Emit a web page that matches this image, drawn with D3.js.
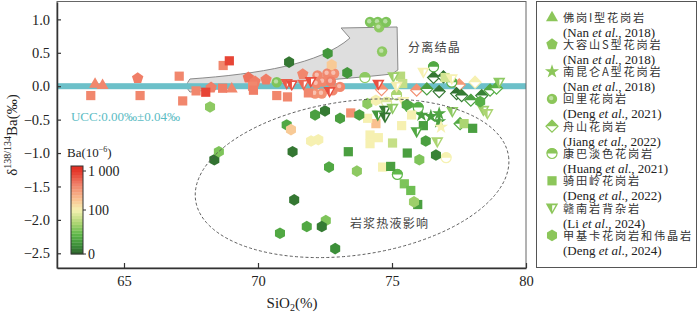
<!DOCTYPE html>
<html>
<head>
<meta charset="utf-8">
<script src="https://cdn.jsdelivr.net/npm/d3@7"></script>
<style>
  body { margin: 0; background: #fff; }
  svg { display: block; }
</style>
</head>
<body>
<svg id="chart" width="700" height="314"></svg>
<script>
// each point: [SiO2 (%), d138/134Ba (permil), Ba (10^-6)]
const foGangI = [[63.92,0.04,650],[64.2,0.02,650],[69.02,-0.03,650]];
const daRongShan = [[65.51,0.12,700],[68.25,-0.02,700],[69.64,0.13,750],[69.89,0.07,700],[70.3,0.1,700],[71.67,0.18,650]];
const nanKunLun = [[76.1,-0.43,30],[76.45,-0.45,30],[76.76,-0.41,35],[76.76,-0.53,30],[76.83,-0.61,105]];
const huiLi = [[74.18,0.96,55],[74.47,0.96,55],[74.52,0.88,60],[74.78,0.96,55],[74.63,0.52,60],[70.7,0.06,55],
  [72.22,0.16,650],[72.59,0.19,650],[72.84,0.19,620],[72.42,0.07,650],[72.72,0.07,700],[72.18,0.04,650],
  [73.06,-0.01,650],[72.13,-0.11,600],[72.38,-0.11,600],[72.79,-0.06,650]];
const zhouShan = [[74.61,-0.05,600],[75.92,-0.06,600],[77.51,0.02,550],[78.1,0.06,110],[76.55,0.13,10],[76.92,0.14,8],
  [76.76,-0.08,10],[77.41,-0.11,8],[77.6,-0.14,12],[77.94,-0.21,30],[78.35,-0.14,15],[78.66,-0.06,35],[76.3,-0.04,30],
  [77.54,-0.56,35],[78.9,-0.03,40]];
const kangBa = [[73.99,0.13,60],[76.55,0.29,35],[75.67,-0.32,40],[75.98,-0.32,40],[75.17,-0.13,70],[74.8,-0.24,90],
  [75.2,-1.32,45],[77.02,-1.07,100],[77.23,0.06,40]];
const qiTianLing = [[63.76,-0.14,650],[65.6,-0.14,650],[67.06,0.15,650],[67.19,-0.22,650],[67.69,-0.07,650],[68.05,-0.09,950],
  [68.68,-0.03,700],[68.7,0.31,650],[68.93,0.38,950],[69.8,0.0,650],[69.83,-0.06,700],[70.7,-0.14,650],[71.1,-0.16,650],
  [71.88,-0.1,650],[73.46,-0.4,600],[74.4,-0.56,350],[74.18,-0.73,110],[74.49,-0.77,110],[74.18,-0.86,110],[75.02,-0.85,80],
  [75.36,-0.59,110],[75.32,0.15,75],[75.4,0.04,80],[76.17,-0.59,30],[73.37,-0.98,30],[75.57,-1.0,30],[74.65,-1.21,110],
  [74.95,-1.2,30],[75.46,-1.46,55],[75.7,-1.56,50],[75.96,-1.77,30],[77.69,-0.56,70],[78.01,-0.63,30],[76.98,0.13,85],
  [75.73,-0.43,110],[74.09,-0.48,110]];
const ganNan = [[71.07,0.04,850],[71.26,0.02,900],[71.7,0.03,800],[71.97,0.07,900],[72.67,-0.08,900],[74.49,0.03,900],
  [75.05,0.14,65],[76.17,0.21,110],[77.23,0.11,105],[79.0,0.06,60],[75.17,0.0,120],[74.74,-0.36,12],[75.02,-0.33,60],
  [74.47,-0.43,25],[74.74,-0.46,10],[75.42,-0.23,110],[75.92,-0.68,35],[76.69,-0.83,70],[77.25,-0.38,60],[78.41,-0.36,65],
  [78.56,-0.41,70]];
const jiaJiKa = [[68.21,-0.31,60],[68.37,-1.1,8],[68.54,-0.98,55],[71.16,0.36,10],[72.6,0.49,25],[72.75,0.32,300],
  [73.33,0.2,25],[71.07,-0.58,35],[71.23,-0.65,300],[71.98,-0.82,110],[72.25,-0.8,110],[72.13,-0.43,30],[72.5,-0.37,12],
  [73.06,-0.48,30],[73.78,-0.43,30],[71.29,-0.98,10],[76.02,-1.1,55],[76.64,-1.03,15],[72.65,-1.21,35],[73.69,-1.27,60],
  [75.82,-1.73,65],[71.35,-1.7,10],[72.53,-2.01,55],[72.38,-2.1,12],[71.82,-2.1,35],[70.82,-2.2,35],[72.88,-2.43,20],
  [76.26,-0.82,30],[75.55,-0.28,35],[74.08,-0.26,60],[74.4,-0.21,110],[78.29,-0.23,40]];

const xTicks = [65, 70, 75, 80];
const yTicks = [1, 0.5, 0, -0.5, -1, -1.5, -2, -2.5];
const barTicks = [[1000, '1 000'], [100, '100'], [0, '0']];

const legendNames = ['佛岗I型花岗岩','大容山S型花岗岩','南昆仑A型花岗岩','回里花岗岩','舟山花岗岩','康巴淡色花岗岩','骑田岭花岗岩','赣南岩背杂岩','甲基卡花岗岩和伟晶岩'];
const legendRefs = [['Nan','2018'],['Nan','2018'],['Nan','2018'],['Deng','2021'],['Jiang','2022'],['Huang','2021'],['Deng','2022'],['Li','2024'],['Deng','2024']];
const shapes = ['tri','pent','star','ball','hdiamond','hcircle','square','vtri','hex'];
const seriesData = [foGangI, daRongShan, nanKunLun, huiLi, zhouShan, kangBa, qiTianLing, ganNan, jiaJiKa];

// fractional crystallization arrow outline, in data units
const arrowPts = [[67.46,0.108],[70.07,0.183],[72.31,0.332],[73.43,0.72],[73.1,0.871],[75.19,0.886],[75.22,0.243],
  [75.0,0.183],[73.06,0.093],[70.07,0.033],[67.46,-0.087],[67.24,0.003]];

const svg = d3.select('#chart');
const serif = "'Liberation Serif','DejaVu Serif',serif";
const cjk = "'Noto Sans CJK SC','Noto Sans CJK JP',sans-serif";

const x = d3.scaleLinear().domain([62.5, 80]).range([57, 526]);
const y = d3.scaleLinear().domain([-2.72, 1.26]).range([268, 2]);

const color = d3.scaleLinear()
  .domain([0, 20, 45, 70, 100, 350, 700, 1000, 1150])
  .range(['#2b5e2b','#3c8f39','#5fb84a','#acd572','#f6f2b2','#f9c08f','#f07e67','#e5392c','#e02a20'])
  .clamp(true);

const plot = svg.append('g');

// arrow
const ap = arrowPts.map(p => [x(p[0]), y(p[1])]);
const arrowPath = `M${ap[0]}C${ap[1]} ${ap[2]} ${ap[3]}L${ap[4]}L${ap[5]}L${ap[6]}L${ap[7]}C${ap[8]} ${ap[9]} ${ap[10]}Q${ap[11]} ${ap[0]}Z`;
plot.append('path').attr('d', arrowPath)
  .attr('fill', '#dedede').attr('stroke', '#8a8a8a').attr('stroke-width', 1);

// UCC band
plot.append('rect')
  .attr('x', x(62.5)).attr('width', x(80) - x(62.5))
  .attr('y', y(0.045)).attr('height', y(-0.045) - y(0.045))
  .attr('fill', '#6cc0c9');

function poly(n, r, rot) {
  const pts = d3.range(n).map(i => {
    const a = rot + i * 2 * Math.PI / n;
    return [r * Math.sin(a), -r * Math.cos(a)];
  });
  return 'M' + pts.join('L') + 'Z';
}

function drawShape(g, shape, c) {
  if (shape === 'tri') {
    g.append('path').attr('d', 'M0,-6.3L6,4.2L-6,4.2Z').attr('fill', c);
  } else if (shape === 'pent') {
    g.append('path').attr('d', poly(5, 6, 0)).attr('fill', c);
  } else if (shape === 'star') {
    g.append('path').attr('d', d3.symbol(d3.symbolStar, 62)()).attr('fill', c);
  } else if (shape === 'ball') {
    g.append('circle').attr('r', 5.2).attr('fill', c);
    g.append('circle').attr('r', 2.2).attr('cx', -0.8).attr('cy', -0.8).attr('fill', '#fff').attr('opacity', 0.45);
  } else if (shape === 'hdiamond') {
    g.append('path').attr('d', 'M0,-6L6,0L0,6L-6,0Z').attr('fill', '#fff').attr('stroke', c).attr('stroke-width', 1.2);
    g.append('path').attr('d', 'M0,-6L6,0L-6,0Z').attr('fill', c);
  } else if (shape === 'hcircle') {
    g.append('circle').attr('r', 5).attr('fill', '#fff').attr('stroke', c).attr('stroke-width', 1.2);
    g.append('path').attr('d', 'M-5.5,0A5.5,5.5 0 0 1 5.5,0Z').attr('fill', c);
  } else if (shape === 'square') {
    g.append('rect').attr('x', -4.6).attr('y', -4.6).attr('width', 9.2).attr('height', 9.2).attr('fill', c);
  } else if (shape === 'vtri') {
    g.append('path').attr('d', 'M-6.2,-4.5L6.2,-4.5L0,6.5Z').attr('fill', c);
    g.append('path').attr('d', 'M0.2,-2.8L3.6,-2.8L0.2,3.4Z').attr('fill', '#fff');
  } else if (shape === 'hex') {
    g.append('path').attr('d', poly(6, 5.8, 0)).attr('fill', c);
  }
}

// points
seriesData.forEach((data, i) => {
  plot.append('g').selectAll('g')
    .data(data)
    .join('g')
    .attr('transform', d => `translate(${x(d[0])},${y(d[1])})`)
    .each(function(d) { drawShape(d3.select(this), shapes[i], color(d[2])); });
});

// hydrothermal ellipse
const ec = [x(73.51), y(-1.377)];
plot.append('ellipse')
  .attr('transform', `translate(${ec}) rotate(-8)`)
  .attr('rx', 158).attr('ry', 77)
  .attr('fill', 'none').attr('stroke', '#555').attr('stroke-width', 0.9).attr('stroke-dasharray', '3,2.2');

// annotations
plot.append('text').attr('x', x(75.6)).attr('y', y(0.51))
  .attr('font-family', cjk).attr('font-size', 12).attr('letter-spacing', 1.2).attr('fill', '#444')
  .text('分离结晶');
plot.append('text').attr('x', x(73.43)).attr('y', y(-2.12))
  .attr('font-family', cjk).attr('font-size', 12).attr('letter-spacing', 1.2).attr('fill', '#444')
  .text('岩浆热液影响');
plot.append('text').attr('x', x(63.02)).attr('y', y(-0.52))
  .attr('font-family', serif).attr('font-size', 13).attr('fill', '#5bbcc4')
  .text('UCC:0.00‰±0.04‰');

// frame
svg.append('rect').attr('x', 57).attr('y', 1.5).attr('width', 469).attr('height', 266.5)
  .attr('fill', 'none').attr('stroke', '#666').attr('stroke-width', 1);

// axes
const xAxis = svg.append('g').attr('transform', 'translate(0,268)')
  .call(d3.axisBottom(x).tickValues(xTicks).tickSizeInner(-5).tickSizeOuter(0).tickPadding(8));
const yAxis = svg.append('g').attr('transform', 'translate(57,0)')
  .call(d3.axisLeft(y).tickValues(yTicks).tickFormat(d3.format('.1f')).tickSizeInner(-4).tickSizeOuter(0).tickPadding(7));
[xAxis, yAxis].forEach(a => {
  a.select('.domain').attr('stroke', '#333').attr('stroke-width', 1.5);
  a.selectAll('.tick line').attr('stroke', '#333').attr('stroke-width', 1.2);
  a.selectAll('.tick text').attr('font-family', serif).attr('font-size', 14.5).attr('fill', '#222');
});

// axis titles
const yt = svg.append('text').attr('transform', 'translate(17,135) rotate(-90)')
  .attr('text-anchor', 'middle').attr('font-family', serif).attr('font-size', 15).attr('fill', '#222');
yt.append('tspan').text('δ');
yt.append('tspan').attr('font-size', 10).attr('dy', -6).text('138/134');
yt.append('tspan').attr('dy', 6).text('Ba(‰)');

const xt = svg.append('text').attr('x', 292).attr('y', 308)
  .attr('text-anchor', 'middle').attr('font-family', serif).attr('font-size', 15).attr('fill', '#222');
xt.append('tspan').text('SiO');
xt.append('tspan').attr('font-size', 10).attr('dy', 3).text('2');
xt.append('tspan').attr('dy', -3).text('(%)');

// colour bar
const barY = d3.scaleLinear().domain([0, 100, 1000]).range([254, 210, 171]);
const barTop = 166, barBottom = 254, nSteps = 30;
const stepH = (barBottom - barTop) / nSteps;
const bar = svg.append('g');
bar.selectAll('rect')
  .data(d3.range(nSteps))
  .join('rect')
  .attr('x', 71).attr('width', 12)
  .attr('y', i => barBottom - (i + 1) * stepH).attr('height', stepH + 0.3)
  .attr('fill', i => color(barY.invert(barBottom - (i + 0.5) * stepH)));
bar.append('rect').attr('x', 71).attr('y', barTop).attr('width', 12).attr('height', barBottom - barTop)
  .attr('fill', 'none').attr('stroke', '#333').attr('stroke-width', 1);
bar.selectAll('.btick')
  .data(barTicks)
  .join('g')
  .attr('transform', d => `translate(83,${barY(d[0])})`)
  .each(function(d) {
    const g = d3.select(this);
    g.append('line').attr('x1', 0).attr('x2', 3).attr('stroke', '#333');
    g.append('text').attr('x', 5).attr('dy', '0.35em')
      .attr('font-family', serif).attr('font-size', 14).attr('fill', '#222').text(d[1]);
  });
const bt = svg.append('text').attr('x', 67).attr('y', 157)
  .attr('font-family', serif).attr('font-size', 13).attr('fill', '#222');
bt.append('tspan').text('Ba(10');
bt.append('tspan').attr('font-size', 8).attr('dy', -5).text('−6');
bt.append('tspan').attr('dy', 5).text(')');

// legend
svg.append('rect').attr('x', 536.5).attr('y', 1.5).attr('width', 160).attr('height', 266)
  .attr('fill', '#fff').attr('stroke', '#555').attr('stroke-width', 1);
const legendColor = '#8cc65a';
const leg = svg.append('g').selectAll('g')
  .data(legendNames)
  .join('g')
  .attr('transform', (d, i) => `translate(0,${17 + i * 27.3})`);
leg.each(function(d, i) {
  const g = d3.select(this);
  drawShape(g.append('g').attr('transform', 'translate(552,0)'), shapes[i], legendColor);
  g.append('text').attr('x', 563).attr('y', 4.5)
    .attr('font-family', cjk).attr('font-size', 11.2).attr('letter-spacing', 1.8).attr('fill', '#333').text(d);
  const r = g.append('text').attr('x', 563).attr('y', 19.5)
    .attr('font-family', serif).attr('font-size', 13).attr('fill', '#222');
  r.append('tspan').text('(' + legendRefs[i][0] + ' ');
  r.append('tspan').attr('font-style', 'italic').text('et al');
  r.append('tspan').text('., ' + legendRefs[i][1] + ')');
});
</script>
</body>
</html>
